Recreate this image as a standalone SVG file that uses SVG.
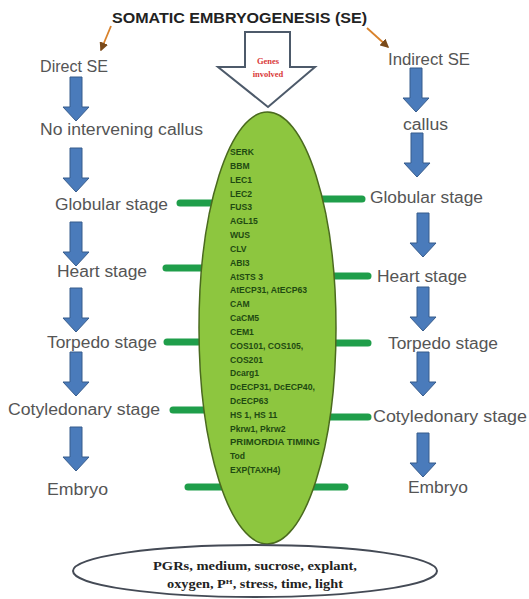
<svg xmlns="http://www.w3.org/2000/svg" width="529" height="599" viewBox="0 0 529 599">
<defs>
<style>
.lbl{font-family:"Liberation Sans",Arial,sans-serif;font-size:16px;fill:#555555}
.gene{font-family:"Liberation Sans",Arial,sans-serif;font-size:8.6px;font-weight:bold;fill:#1f4a12}
.bar{stroke:#1f9e4a;stroke-width:7;stroke-linecap:round;fill:none}
.blue{fill:#4a7bbb;stroke:#375c8c;stroke-width:1}
.orange{stroke:#d9822b;stroke-width:1.8;fill:none}
</style>
<path id="ba" d="M-6 0H6V30H13L0 44L-13 30H-6Z"/>
<marker id="oh" viewBox="0 0 6 6" refX="5" refY="3" markerWidth="5" markerHeight="5" orient="auto">
<path d="M0 0L6 3L0 6Z" fill="#7a4a1a"/>
</marker>
</defs>
<rect width="529" height="599" fill="#ffffff"/>

<g id="connectors">
<line class="orange" x1="111" y1="26" x2="101" y2="50" marker-end="url(#oh)"/>
<line class="orange" x1="367" y1="28" x2="388" y2="47" marker-end="url(#oh)"/>
<g class="blue">
<use href="#ba" x="76" y="77"/>
<use href="#ba" x="76" y="148"/>
<use href="#ba" x="76" y="222"/>
<use href="#ba" x="76" y="288"/>
<use href="#ba" x="76" y="352"/>
<use href="#ba" x="76" y="427"/>
<use href="#ba" x="416" y="68"/>
<use href="#ba" x="417" y="133"/>
<use href="#ba" x="423" y="213"/>
<use href="#ba" x="423" y="287"/>
<use href="#ba" x="423" y="352"/>
<use href="#ba" x="423" y="433"/>
</g>
<g>
<line class="bar" x1="180" y1="203" x2="218" y2="203"/>
<line class="bar" x1="166" y1="268" x2="210" y2="268"/>
<line class="bar" x1="167" y1="342" x2="206" y2="342"/>
<line class="bar" x1="173" y1="410" x2="210" y2="410"/>
<line class="bar" x1="188" y1="487" x2="230" y2="487"/>
<line class="bar" x1="318" y1="199" x2="362" y2="199"/>
<line class="bar" x1="326" y1="276" x2="368" y2="276"/>
<line class="bar" x1="328" y1="343" x2="368" y2="343"/>
<line class="bar" x1="326" y1="417" x2="368" y2="417"/>
<line class="bar" x1="306" y1="487" x2="345" y2="487"/>
</g>
</g>

<g id="title">
<text x="112" y="23" font-family="Liberation Sans,Arial,sans-serif" font-size="14" font-weight="bold" fill="#222222" textLength="255" lengthAdjust="spacingAndGlyphs">SOMATIC EMBRYOGENESIS (SE)</text>
</g>

<g id="genes-arrow">
<path d="M245 32H290V67H315L268 107L218 67H245Z" fill="#ffffff" stroke="#4d5a6a" stroke-width="2"/>
<text x="268" y="64" text-anchor="middle" font-family="Liberation Serif,serif" font-size="8.5" font-weight="bold" fill="#d93a3a">Genes</text>
<text x="268" y="77" text-anchor="middle" font-family="Liberation Serif,serif" font-size="8.5" font-weight="bold" fill="#d93a3a">involved</text>
</g>

<g id="gene-ellipse">
<ellipse cx="267.5" cy="328" rx="68.5" ry="216" fill="#8dc63f" stroke="#4a6a1e" stroke-width="1.5"/>
<g class="gene">
<text x="230" y="155">SERK</text>
<text x="230" y="168.8">BBM</text>
<text x="230" y="182.7">LEC1</text>
<text x="230" y="196.5">LEC2</text>
<text x="230" y="210.3">FUS3</text>
<text x="230" y="224.2">AGL15</text>
<text x="230" y="238">WUS</text>
<text x="230" y="251.8">CLV</text>
<text x="230" y="265.6">ABI3</text>
<text x="230" y="279.5">AtSTS 3</text>
<text x="230" y="293.3">AtECP31, AtECP63</text>
<text x="230" y="307.1">CAM</text>
<text x="230" y="321">CaCM5</text>
<text x="230" y="334.8">CEM1</text>
<text x="230" y="348.6">COS101, COS105,</text>
<text x="230" y="362.5">COS201</text>
<text x="230" y="376.3">Dcarg1</text>
<text x="230" y="390.1" textLength="85" lengthAdjust="spacingAndGlyphs">DcECP31, DcECP40,</text>
<text x="230" y="404">DcECP63</text>
<text x="230" y="417.8">HS 1, HS 11</text>
<text x="230" y="431.6">Pkrw1, Pkrw2</text>
<text x="230" y="445.4" textLength="90" lengthAdjust="spacingAndGlyphs">PRIMORDIA TIMING</text>
<text x="230" y="459.3">Tod</text>
<text x="230" y="473">EXP(TAXH4)</text>
</g>
</g>

<g id="direct-se"><text class="lbl" x="40" y="72" textLength="68" lengthAdjust="spacingAndGlyphs">Direct SE</text></g>
<g id="no-callus"><text class="lbl" x="40" y="135" textLength="163" lengthAdjust="spacingAndGlyphs">No intervening callus</text></g>
<g id="globular-left"><text class="lbl" x="55" y="210" textLength="113" lengthAdjust="spacingAndGlyphs">Globular stage</text></g>
<g id="heart-left"><text class="lbl" x="57" y="277" textLength="90" lengthAdjust="spacingAndGlyphs">Heart stage</text></g>
<g id="torpedo-left"><text class="lbl" x="47" y="348" textLength="110" lengthAdjust="spacingAndGlyphs">Torpedo stage</text></g>
<g id="cotyledonary-left"><text class="lbl" x="8" y="415" textLength="152" lengthAdjust="spacingAndGlyphs">Cotyledonary stage</text></g>
<g id="embryo-left"><text class="lbl" x="47" y="495" textLength="61" lengthAdjust="spacingAndGlyphs">Embryo</text></g>

<g id="indirect-se"><text class="lbl" x="388" y="65" textLength="82" lengthAdjust="spacingAndGlyphs">Indirect SE</text></g>
<g id="callus"><text class="lbl" x="403" y="130" textLength="45" lengthAdjust="spacingAndGlyphs">callus</text></g>
<g id="globular-right"><text class="lbl" x="370" y="203" textLength="113" lengthAdjust="spacingAndGlyphs">Globular stage</text></g>
<g id="heart-right"><text class="lbl" x="377" y="282" textLength="90" lengthAdjust="spacingAndGlyphs">Heart stage</text></g>
<g id="torpedo-right"><text class="lbl" x="388" y="349" textLength="110" lengthAdjust="spacingAndGlyphs">Torpedo stage</text></g>
<g id="cotyledonary-right"><text class="lbl" x="373" y="422" textLength="154" lengthAdjust="spacingAndGlyphs">Cotyledonary stage</text></g>
<g id="embryo-right"><text class="lbl" x="408" y="493" textLength="60" lengthAdjust="spacingAndGlyphs">Embryo</text></g>

<g id="factors">
<ellipse cx="255" cy="571" rx="182" ry="26" fill="#ffffff" stroke="#444a55" stroke-width="2"/>
<text x="255" y="570" text-anchor="middle" font-family="Liberation Serif,serif" font-size="11.5" font-weight="bold" fill="#222222" textLength="204" lengthAdjust="spacingAndGlyphs">PGRs, medium,  sucrose, explant,</text>
<text x="255" y="588" text-anchor="middle" font-family="Liberation Serif,serif" font-size="11.5" font-weight="bold" fill="#222222" textLength="176" lengthAdjust="spacingAndGlyphs">oxygen, P<tspan font-size="7" dy="-4">H</tspan><tspan dy="4">, stress, time, light</tspan></text>
</g>
</svg>
